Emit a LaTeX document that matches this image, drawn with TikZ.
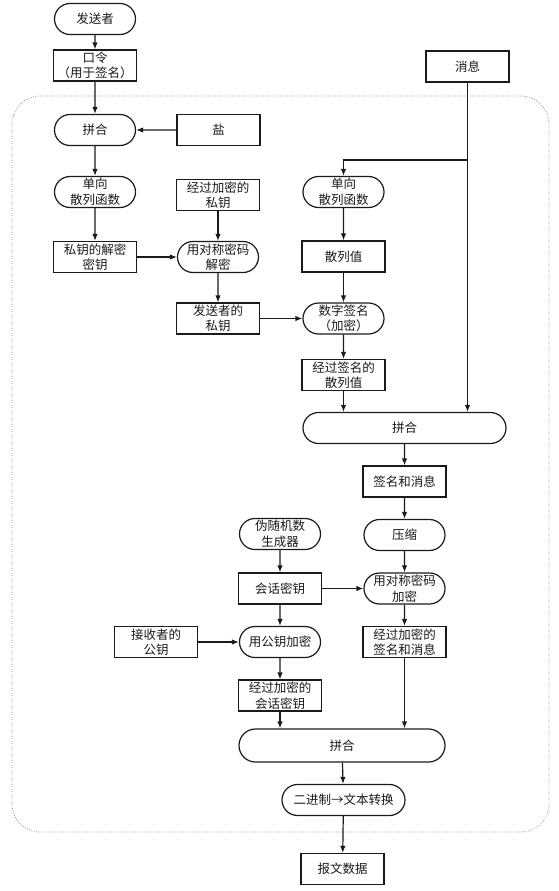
\documentclass[tikz,border=0pt]{standalone}
\usepackage{fontspec}
\setmainfont{Noto Sans CJK SC}
\usepackage{tikz}
\usetikzlibrary{arrows.meta,shapes.misc}
\definecolor{ink}{HTML}{1A1A1A}
\definecolor{mute}{HTML}{8C8C8C}

\begin{document}
\begin{tikzpicture}[x=1pt,y=-1pt,font=\fontsize{12.5}{15.5}\selectfont,
  box/.style={draw=ink,line width=1.2pt,minimum width=83pt,minimum height=31pt,inner sep=1pt,align=center,text=ink},
  pill/.style={box,rounded rectangle},
  flow/.style={draw=ink,line width=1.2pt,-{Latex[length=7pt,width=5.5pt]}}]
  \useasboundingbox (0,0) rectangle (558,891);
  % dotted frame
  \draw[mute,line width=0.8pt,dash pattern=on 0.8pt off 1.6pt,rounded corners=28pt] (12,96) rectangle (549,832);
  % rectangles
  \foreach \n/\x/\y/\t in {pwd/95/65.5/{口令\\（用于签名）}, salt/218.5/130/盐, encpriv/218/195/{经过加密的\\私钥},
    deckey/95/257/{私钥的解密\\密钥}, priv/218/318.5/{发送者的\\私钥}, msg/467.5/66.5/消息, hval/343.5/256.5/散列值,
    shash/343.5/375/{经过签名的\\散列值}, sigmsg/404.5/481.5/签名和消息, skey/280/588.5/会话密钥,
    pub/156/642/{接收者的\\公钥}, encmsg/404.5/642/{经过加密的\\签名和消息}, enckey/280/695.5/{经过加密的\\会话密钥},
    out/342.5/869/报文数据}
    \node[box] (\n) at (\x,\y) {\t};
  % rounded steps
  \foreach \n/\x/\y/\t in {sender/95/19/发送者, cat1/95/130/拼合, hashL/95/192/{单向\\散列函数},
    symdec/218/257/{用对称密码\\解密}, hashR/343.5/192/{单向\\散列函数}, sign/343.5/318.5/{数字签名\\（加密）},
    zip/404.5/535/压缩, prng/280/534/{伪随机数\\生成器}, symenc/404.5/588.5/{用对称密码\\加密},
    pubenc/280/642/用公钥加密}
    \node[pill] (\n) at (\x,\y) {\t};
  \node[pill,minimum width=205pt] (cat2) at (404.5,428) {拼合};
  \node[pill,minimum width=208pt,minimum height=33pt] (cat3) at (342,745.5) {拼合};
  \node[pill,minimum width=125pt] (b2t) at (343.5,800) {二进制→文本转换};
  % connectors
  \foreach \a/\b in {sender/pwd, pwd/cat1, salt/cat1, cat1/hashL, hashL/deckey, deckey/symdec,
    encpriv/symdec, symdec/priv, priv/sign, hashR/hval, hval/sign, sign/shash, cat2/sigmsg,
    sigmsg/zip, zip/symenc, symenc/encmsg, prng/skey, skey/symenc, skey/pubenc, pub/pubenc,
    pubenc/enckey, cat3/b2t, b2t/out}
    \draw[flow] (\a) -- (\b);
  \foreach \a/\b in {shash/cat2, msg/cat2, enckey/cat3, encmsg/cat3}
    \draw[flow] (\a) -- (\a |- \b.north);
  \coordinate (split) at (467.5,160);
  \draw[flow] (split) -| (hashR);
\end{tikzpicture}
\end{document}
